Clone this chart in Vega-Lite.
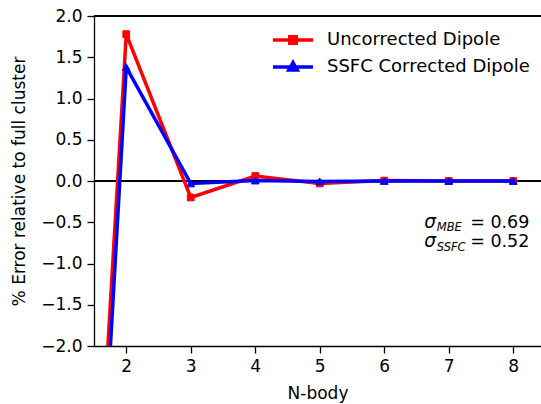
{
  "$schema": "https://vega.github.io/schema/vega-lite/v6.json",
  "width": 447,
  "height": 330,
  "autosize": {"type": "none"},
  "padding": {"left": 94, "top": 16, "right": 0, "bottom": 58},
  "background": "white",
  "config": {
    "font": "DejaVu Sans",
    "view": {"stroke": null},
    "axis": {
      "domainColor": "black",
      "domainWidth": 1.3,
      "tickColor": "black",
      "tickWidth": 1.3,
      "tickSize": 7,
      "labelColor": "black",
      "labelFont": "DejaVu Sans",
      "labelFontSize": 17,
      "labelPadding": 5,
      "titleFont": "DejaVu Sans",
      "titleFontSize": 17,
      "titleFontWeight": "normal",
      "titleColor": "black",
      "grid": false
    }
  },
  "data": {
    "values": [
      {"series": "Uncorrected Dipole", "N": 1, "err": -11.5},
      {"series": "Uncorrected Dipole", "N": 2, "err": 1.78},
      {"series": "Uncorrected Dipole", "N": 3, "err": -0.2},
      {"series": "Uncorrected Dipole", "N": 4, "err": 0.06},
      {"series": "Uncorrected Dipole", "N": 5, "err": -0.03},
      {"series": "Uncorrected Dipole", "N": 6, "err": 0.005},
      {"series": "Uncorrected Dipole", "N": 7, "err": 0.0},
      {"series": "Uncorrected Dipole", "N": 8, "err": 0.0},
      {"series": "SSFC Corrected Dipole", "N": 1, "err": -12.4},
      {"series": "SSFC Corrected Dipole", "N": 2, "err": 1.38},
      {"series": "SSFC Corrected Dipole", "N": 3, "err": -0.03},
      {"series": "SSFC Corrected Dipole", "N": 4, "err": 0.005},
      {"series": "SSFC Corrected Dipole", "N": 5, "err": -0.005},
      {"series": "SSFC Corrected Dipole", "N": 6, "err": 0.0},
      {"series": "SSFC Corrected Dipole", "N": 7, "err": 0.0},
      {"series": "SSFC Corrected Dipole", "N": 8, "err": 0.0}
    ]
  },
  "layer": [
    {
      "mark": {"type": "rule", "color": "black", "strokeWidth": 1.5},
      "encoding": {"y": {"datum": 0, "type": "quantitative"}}
    },
    {
      "mark": {"type": "rule", "color": "black", "strokeWidth": 1.3},
      "encoding": {"y": {"datum": 2, "type": "quantitative"}}
    },
    {
      "transform": [{"filter": "datum.series === 'Uncorrected Dipole'"}],
      "mark": {"type": "line", "strokeWidth": 3.5, "clip": true},
      "encoding": {
        "x": {
          "field": "N", "type": "quantitative",
          "scale": {"domain": [1.5, 8.43], "nice": false, "zero": false},
          "axis": {"values": [2, 3, 4, 5, 6, 7, 8], "format": "d", "title": "N-body", "titlePadding": 11}
        },
        "y": {
          "field": "err", "type": "quantitative",
          "scale": {"domain": [-2, 2], "nice": false, "zero": false},
          "axis": {
            "values": [-2, -1.5, -1, -0.5, 0, 0.5, 1, 1.5, 2],
            "format": ".1f",
            "title": "% Error relative to full cluster",
            "titlePadding": 12
          }
        },
        "color": {
          "field": "series", "type": "nominal",
          "scale": {"domain": ["Uncorrected Dipole", "SSFC Corrected Dipole"], "range": ["#ff0000", "#0000ff"]},
          "legend": {
            "title": null,
            "orient": "none",
            "legendX": 187,
            "legendY": 12,
            "padding": 0,
            "symbolSize": 400,
            "symbolStrokeWidth": 3.5,
            "labelFont": "DejaVu Sans",
            "labelFontSize": 18,
            "labelColor": "black",
            "labelLimit": 400,
            "labelOffset": 22,
            "rowPadding": 4,
            "encode": {
              "symbols": {
                "update": {
                  "shape": {"signal": "datum.value === 'Uncorrected Dipole' ? 'M-2,0H2M-0.32,-0.32H0.32V0.32H-0.32Z' : 'M-2,0H2M0,-0.45L0.42,0.3L-0.42,0.3Z'"},
                  "fill": {"scale": "color", "field": "value"},
                  "stroke": {"scale": "color", "field": "value"},
                  "strokeWidth": {"value": 3.5}
                }
              }
            }
          }
        }
      }
    },
    {
      "transform": [{"filter": "datum.series === 'Uncorrected Dipole'"}],
      "mark": {"type": "point", "shape": "square", "filled": true, "size": 45, "opacity": 1, "strokeWidth": 1, "clip": true},
      "encoding": {
        "x": {"field": "N", "type": "quantitative"},
        "y": {"field": "err", "type": "quantitative"},
        "color": {"field": "series", "type": "nominal"},
        "stroke": {"field": "series", "type": "nominal", "scale": {"domain": ["Uncorrected Dipole", "SSFC Corrected Dipole"], "range": ["#ff0000", "#0000ff"]}, "legend": null}
      }
    },
    {
      "transform": [{"filter": "datum.series === 'SSFC Corrected Dipole'"}],
      "mark": {"type": "line", "strokeWidth": 3.5, "clip": true},
      "encoding": {
        "x": {"field": "N", "type": "quantitative"},
        "y": {"field": "err", "type": "quantitative"},
        "color": {"field": "series", "type": "nominal"}
      }
    },
    {
      "transform": [{"filter": "datum.series === 'SSFC Corrected Dipole'"}],
      "mark": {"type": "point", "shape": "triangle-up", "filled": true, "size": 60, "opacity": 1, "strokeWidth": 1, "clip": true},
      "encoding": {
        "x": {"field": "N", "type": "quantitative"},
        "y": {"field": "err", "type": "quantitative"},
        "color": {"field": "series", "type": "nominal"},
        "stroke": {"field": "series", "type": "nominal", "legend": null}
      }
    },
    {
      "data": {"values": [{"label": "σ", "sub": "MBE", "rest": "= 0.69"}]},
      "layer": [
        {
          "mark": {"type": "text", "align": "left", "baseline": "alphabetic", "fontSize": 18.5, "fontStyle": "italic", "color": "black"},
          "encoding": {"x": {"datum": 6.62, "type": "quantitative"}, "y": {"datum": -0.566, "type": "quantitative"}, "text": {"field": "label"}}
        },
        {
          "mark": {"type": "text", "align": "left", "baseline": "alphabetic", "fontSize": 11.5, "fontStyle": "italic", "color": "black", "dx": 12.5, "dy": 3.5},
          "encoding": {"x": {"datum": 6.62, "type": "quantitative"}, "y": {"datum": -0.566, "type": "quantitative"}, "text": {"field": "sub"}}
        },
        {
          "mark": {"type": "text", "align": "right", "baseline": "alphabetic", "fontSize": 17.5, "color": "black"},
          "encoding": {"x": {"datum": 8.25, "type": "quantitative"}, "y": {"datum": -0.566, "type": "quantitative"}, "text": {"field": "rest"}}
        }
      ]
    },
    {
      "data": {"values": [{"label": "σ", "sub": "SSFC", "rest": "= 0.52"}]},
      "layer": [
        {
          "mark": {"type": "text", "align": "left", "baseline": "alphabetic", "fontSize": 18.5, "fontStyle": "italic", "color": "black"},
          "encoding": {"x": {"datum": 6.62, "type": "quantitative"}, "y": {"datum": -0.8, "type": "quantitative"}, "text": {"field": "label"}}
        },
        {
          "mark": {"type": "text", "align": "left", "baseline": "alphabetic", "fontSize": 11.5, "fontStyle": "italic", "color": "black", "dx": 12.5, "dy": 3.5},
          "encoding": {"x": {"datum": 6.62, "type": "quantitative"}, "y": {"datum": -0.8, "type": "quantitative"}, "text": {"field": "sub"}}
        },
        {
          "mark": {"type": "text", "align": "right", "baseline": "alphabetic", "fontSize": 17.5, "color": "black"},
          "encoding": {"x": {"datum": 8.25, "type": "quantitative"}, "y": {"datum": -0.8, "type": "quantitative"}, "text": {"field": "rest"}}
        }
      ]
    }
  ]
}
